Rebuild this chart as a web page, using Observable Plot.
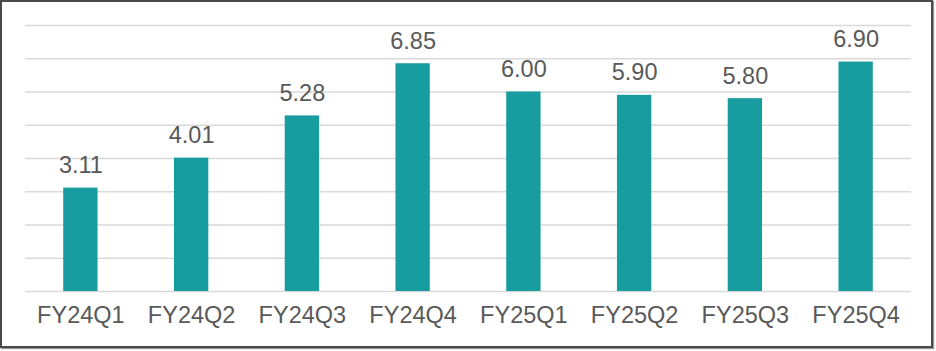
<!DOCTYPE html>
<html>
<head>
<meta charset="utf-8">
<script src="https://cdn.jsdelivr.net/npm/d3@7"></script>
<script src="https://cdn.jsdelivr.net/npm/@observablehq/plot@0.6"></script>
<style>
  html, body { margin: 0; padding: 0; background: #fff; }
  #wrap { position: relative; width: 936px; height: 351px; }
  #frame { position: absolute; left: 0px; top: 0px; width: 929px; height: 344px; border: 2px solid #4a4a4a; box-shadow: 1px 1px 1px #999; pointer-events: none; }
</style>
</head>
<body>
<div id="wrap"><div id="frame"></div></div>
<script>
const quarters = ["FY24Q1","FY24Q2","FY24Q3","FY24Q4","FY25Q1","FY25Q2","FY25Q3","FY25Q4"];
const values = [3.11, 4.01, 5.28, 6.85, 6.00, 5.90, 5.80, 6.90];
const gridTicks = [0,1,2,3,4,5,6,7,8];

const data = quarters.map((q, i) => ({q, v: values[i]}));

const chart = Plot.plot({
  width: 936,
  height: 351,
  marginLeft: 25,
  marginRight: 25,
  marginTop: 25,
  marginBottom: 60,
  style: {fontFamily: "'Liberation Sans', Arial, sans-serif", color: "#595959", background: "transparent"},
  x: {domain: quarters, paddingInner: 0.69, paddingOuter: 0.345, round: false, label: null},
  y: {domain: [0, 8], axis: null},
  marks: [
    Plot.ruleY(gridTicks, {stroke: "#d9d9d9", strokeWidth: 1.5}),
    Plot.barY(data, {x: "q", y: "v", fill: "#179ca0"}),
    Plot.text(data, {x: "q", y: "v", text: d => d.v.toFixed(2), dy: -15, lineAnchor: "bottom", fontSize: 23.5, fill: "#595959"}),
    Plot.axisX({tickSize: 0, tickPadding: 15, fontSize: 23.5, label: null, color: "#595959"})
  ]
});
chart.style.position = "absolute";
chart.style.left = "0";
chart.style.top = "0";
document.getElementById("wrap").insertBefore(chart, document.getElementById("frame"));
</script>
</body>
</html>
